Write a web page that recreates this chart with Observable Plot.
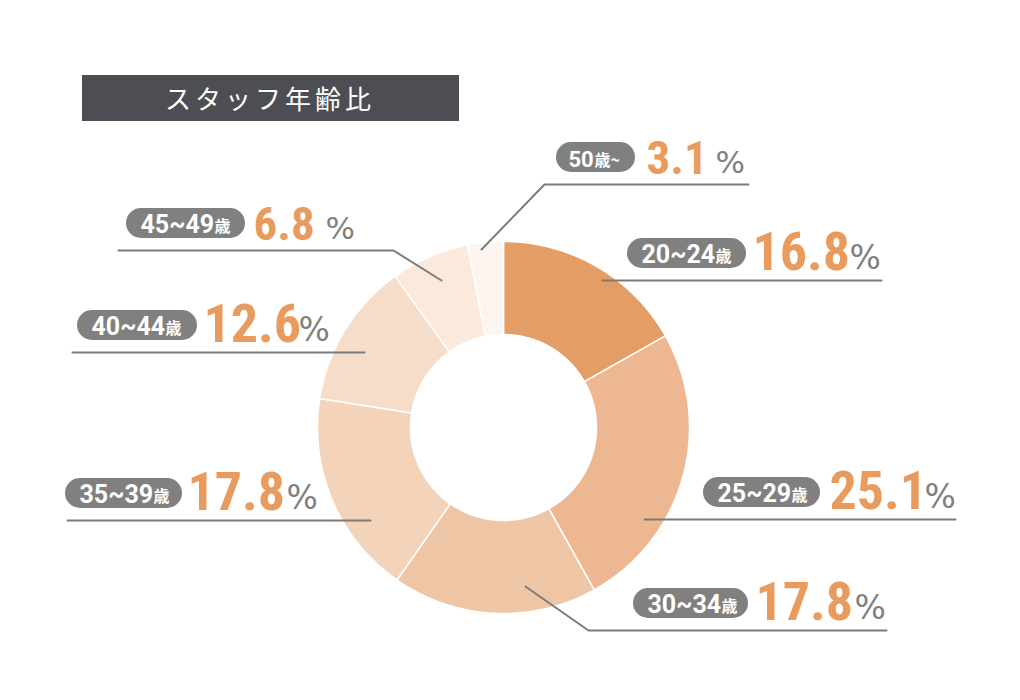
<!DOCTYPE html>
<html><head><meta charset="utf-8">
<script src="https://cdn.jsdelivr.net/npm/d3@7"></script>
<script src="https://cdn.jsdelivr.net/npm/@observablehq/plot@0.6"></script>
<style>
html,body{margin:0;padding:0;background:#fff;}
body{width:1020px;height:700px;overflow:hidden;}
#title{margin:75px 0 0 82px;width:377px;height:46px;background:#4d4e53;color:#fff;
 font-family:"Noto Sans CJK JP","Noto Sans",sans-serif;font-size:26px;line-height:46px;
 padding-left:83px;box-sizing:border-box;letter-spacing:4px;}
#chart svg{display:block;}
</style></head><body>
<div id="title">スタッフ年齢比</div>
<div id="chart"></div>
<script>
// ---- data ----
const categories = ["20~24歳","25~29歳","30~34歳","35~39歳","40~44歳","45~49歳","50歳~"];
const ageNumbers = ["20~24","25~29","30~34","35~39","40~44","45~49","50"];
const ageSuffixes = ["歳","歳","歳","歳","歳","歳","歳~"];
const shares = [16.8, 25.1, 17.8, 17.8, 12.6, 6.8, 3.1];
const sliceColors = ["#e59d66","#edb891","#eec6a6","#f3d3b9","#f5ddc9","#fbe9dc","#fcf5f0"];

// ---- layout (page pixel coordinates) ----
const CX = 503, CY = 427, R_OUT = 186, R_IN = 93;
const labelLayout = [
  {path:[[602,280],[881,280]], ly:280, px1:627, px2:746, nx:752, nw:94, qx:849, big:true},
  {path:[[644,519],[955,519]], ly:519, px1:703, px2:820, nx:829, nw:91, qx:924, big:true},
  {path:[[525,586],[588,630],[886,630]], ly:630, px1:633, px2:748, nx:755, nw:95, qx:854, big:true},
  {path:[[370,520],[67,520]], ly:520, px1:65, px2:182, nx:187, nw:94, qx:286, big:true},
  {path:[[364,352],[72,352]], ly:352, px1:77, px2:197, nx:203, nw:90, qx:298, big:true},
  {path:[[441,280],[393,250],[118,250]], ly:250, px1:126, px2:245, nx:253, nw:65, qx:325, big:false},
  {path:[[481,249],[544,184],[748,184]], ly:184, px1:556, px2:635, nx:646, nw:61, qx:715, big:false}
];

const labels = categories.map((c, i) => {
  const long = ageNumbers[i].length > 2;
  return {
    cat: c, num: ageNumbers[i], suf: ageSuffixes[i], value: shares[i], ...labelLayout[i],
    tx: labelLayout[i].px1 + (long ? 14 : 12),
    dw: long ? 71 : 23,
    fs: long ? 25 : 22
  };
});

// donut polygons from pie angles
const pie = d3.pie().sort(null).value(d => d)(shares);
const donutPts = [];
pie.forEach((p, i) => {
  const n = Math.max(6, Math.ceil((p.endAngle - p.startAngle) / 0.01));
  for (let k = 0; k <= n; k++) {
    const a = p.startAngle + (p.endAngle - p.startAngle) * k / n;
    donutPts.push({key: categories[i], x: CX + R_OUT * Math.sin(a), y: CY - R_OUT * Math.cos(a)});
  }
  for (let k = n; k >= 0; k--) {
    const a = p.startAngle + (p.endAngle - p.startAngle) * k / n;
    donutPts.push({key: categories[i], x: CX + R_IN * Math.sin(a), y: CY - R_IN * Math.cos(a)});
  }
});

const leaderPts = labels.flatMap(l => l.path.map(([x, y]) => ({key: l.cat, x, y})));

const numFont = '"Liberation Sans Narrow","Roboto Condensed","Arial Narrow",Roboto,sans-serif';

const chart = Plot.plot({
  width: 1020, height: 579, margin: 0,
  x: {domain: [0, 1020], range: [0, 1020], axis: null},
  y: {domain: [121, 700], range: [0, 579], axis: null},
  color: {domain: categories, range: sliceColors},
  style: {background: "transparent", overflow: "visible"},
  marks: [
    Plot.line(donutPts, {x: "x", y: "y", z: "key", fill: "key", stroke: "white", strokeWidth: 1.5, curve: "linear-closed"}),
    Plot.line(leaderPts, {x: "x", y: "y", z: "key", stroke: "#7b7b7b", strokeWidth: 2}),
    Plot.rect(labels, {x1: "px1", x2: "px2", y1: d => d.ly - 42, y2: d => d.ly - 12, rx: 15, fill: "#808080"}),
    Plot.text(labels, {x: "tx", y: d => d.ly - 18, text: "num", textAnchor: "start", lineAnchor: "bottom",
      fill: "white", fontWeight: 700, fontSize: "fs", fontFamily: "Roboto, sans-serif", ariaLabel: "agenum"}),
    Plot.text(labels, {x: d => d.tx + d.dw + 3, y: d => d.ly - 19, text: "suf", textAnchor: "start", lineAnchor: "bottom",
      fill: "white", fontWeight: 700, fontSize: 16, fontFamily: '"Noto Sans CJK JP", sans-serif'}),
    Plot.text(labels, {x: "nx", y: d => d.ly - 11, text: d => d.value.toFixed(1), textAnchor: "start", lineAnchor: "bottom",
      fill: "#e99b5e", fontWeight: 700, fontSize: d => d.big ? 54 : 47, fontFamily: numFont, ariaLabel: "bignum"}),
    Plot.text(labels, {x: "qx", y: d => d.ly - 12, text: () => "%", textAnchor: "start", lineAnchor: "bottom",
      fill: "#7f7f7f", fontWeight: 400, fontSize: d => d.big ? 33 : 31, fontFamily: '"DejaVu Sans", sans-serif'})
  ]
});
document.getElementById("chart").appendChild(chart);
const svgSel = d3.select(chart);
svgSel.selectAll('g[aria-label="bignum"] text').each(function (_, i) {
  d3.select(this).attr("textLength", labels[i].nw).attr("lengthAdjust", "spacingAndGlyphs");
});
svgSel.selectAll('g[aria-label="agenum"] text').each(function (_, i) {
  d3.select(this).attr("textLength", labels[i].dw).attr("lengthAdjust", "spacingAndGlyphs");
});
</script>
</body></html>
